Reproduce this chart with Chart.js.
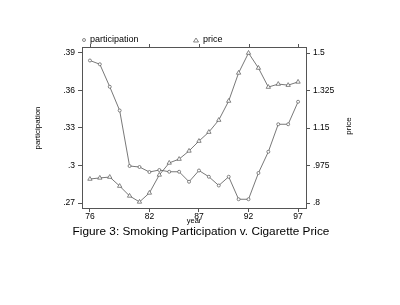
<!DOCTYPE html>
<html>
<head>
<meta charset="utf-8">
<script src="https://cdn.jsdelivr.net/npm/chart.js@4.4.1/dist/chart.umd.min.js"></script>
<style>
  html, body { margin: 0; padding: 0; background: #fff; }
  #wrap { width: 400px; height: 305px; }
</style>
</head>
<body>
<div id="wrap"><canvas id="chart" width="400" height="305"></canvas></div>
<script>
// data
const years = [76, 77, 78, 79, 80, 81, 82, 83, 84, 85, 86, 87, 88, 89, 90, 91, 92, 93, 94, 95, 96, 97];
const participation = [.384, .381, .363, .344, .2996, .2988, .2948, .2964, .295, .295, .287, .296,
  .291, .284, .291, .273, .273, .294, .311, .333, .333, .351];
const price = [.912, .917, .921, .879, .833, .805, .847, .931, .987, 1.005, 1.043, 1.089,
  1.131, 1.187, 1.276, 1.407, 1.5, 1.43, 1.341, 1.355, 1.35, 1.365];

const yearTicks = [76, 82, 87, 92, 97];
const partTicks = [.27, .3, .33, .36, .39];
const partLabels = ['.27', '.3', '.33', '.36', '.39'];
const priceTicks = [.8, .975, 1.15, 1.325, 1.5];
const priceLabels = ['.8', '.975', '1.15', '1.325', '1.5'];

const lineCol = '#555';
const fontFam = '"Liberation Sans", Arial, sans-serif';

function pts(vals) {
  return years.map((yr, i) => ({ x: yr, y: vals[i] }));
}

// top frame line, legend, axis titles and caption
const extras = {
  id: 'extras',
  afterDraw(chart) {
    const ctx = chart.ctx;
    const a = chart.chartArea;
    const xs = chart.scales.x;
    ctx.save();
    ctx.strokeStyle = lineCol;
    ctx.lineWidth = 1;
    ctx.beginPath();
    ctx.moveTo(a.left, a.top + 0.5);
    ctx.lineTo(a.right, a.top + 0.5);
    yearTicks.forEach(t => {
      const px = Math.round(xs.getPixelForValue(t)) + 0.5;
      ctx.moveTo(px, a.top);
      ctx.lineTo(px, a.top - 3);
    });
    ctx.stroke();

    // legend
    ctx.fillStyle = '#000';
    ctx.font = '9px ' + fontFam;
    ctx.textBaseline = 'middle';
    ctx.textAlign = 'left';
    ctx.lineWidth = 0.7;
    ctx.beginPath();
    ctx.arc(84, 40, 1.5, 0, Math.PI * 2);
    ctx.stroke();
    ctx.fillText('participation', 90, 40);
    ctx.beginPath();
    ctx.moveTo(196, 38);
    ctx.lineTo(198.5, 42);
    ctx.lineTo(193.5, 42);
    ctx.closePath();
    ctx.stroke();
    ctx.fillText('price', 203, 40);

    // axis titles
    ctx.font = '8px ' + fontFam;
    ctx.textAlign = 'center';
    ctx.save();
    ctx.translate(38, 128);
    ctx.rotate(-Math.PI / 2);
    ctx.fillText('participation', 0, 0);
    ctx.restore();
    ctx.save();
    ctx.translate(349, 126);
    ctx.rotate(-Math.PI / 2);
    ctx.fillText('price', 0, 0);
    ctx.restore();
    ctx.font = '7.5px ' + fontFam;
    ctx.fillText('year', (a.left + a.right) / 2, 221);

    ctx.font = '11.8px ' + fontFam;
    ctx.fillText('Figure 3: Smoking Participation v. Cigarette Price', 201, 232);
    ctx.restore();
  }
};

const tickFont = { family: fontFam, size: 8.5 };

new Chart(document.getElementById('chart'), {
  type: 'line',
  data: {
    datasets: [
      {
        label: 'participation',
        data: pts(participation),
        yAxisID: 'y',
        borderColor: lineCol,
        borderWidth: 0.8,
        pointStyle: 'circle',
        pointRadius: 1.5,
        pointBorderWidth: 0.7,
        pointBorderColor: lineCol,
        pointBackgroundColor: '#fff',
        tension: 0
      },
      {
        label: 'price',
        data: pts(price),
        yAxisID: 'y2',
        borderColor: lineCol,
        borderWidth: 0.8,
        pointStyle: 'triangle',
        pointRadius: 2.5,
        pointBorderWidth: 0.7,
        pointBorderColor: lineCol,
        pointBackgroundColor: '#fff',
        tension: 0
      }
    ]
  },
  options: {
    responsive: false,
    animation: false,
    layout: { padding: { left: 52, right: 54, top: 47, bottom: 77 } },
    plugins: { legend: { display: false }, tooltip: { enabled: false } },
    scales: {
      x: {
        type: 'linear',
        min: 75.2,
        max: 97.8,
        afterBuildTicks: s => { s.ticks = yearTicks.map(v => ({ value: v })); },
        afterFit: s => { s.height = 20; },
        ticks: { color: '#000', font: tickFont, padding: 0, maxRotation: 0, callback: v => String(v) },
        grid: { drawOnChartArea: false, drawTicks: true, tickLength: 4, color: lineCol },
        border: { display: true, color: lineCol, width: 1 }
      },
      y: {
        position: 'left',
        min: 0.266,
        max: 0.3948,
        afterBuildTicks: s => { s.ticks = partTicks.map(v => ({ value: v })); },
        afterFit: s => { s.width = 30; },
        ticks: {
          color: '#000', font: tickFont, padding: 3,
          callback: v => partLabels[partTicks.findIndex(t => Math.abs(t - v) < 1e-6)]
        },
        grid: { drawOnChartArea: false, drawTicks: true, tickLength: 4, color: lineCol },
        border: { display: true, color: lineCol, width: 1 }
      },
      y2: {
        position: 'right',
        min: 0.7767,
        max: 1.528,
        afterBuildTicks: s => { s.ticks = priceTicks.map(v => ({ value: v })); },
        afterFit: s => { s.width = 40; },
        ticks: {
          color: '#000', font: tickFont, padding: 3,
          callback: v => priceLabels[priceTicks.findIndex(t => Math.abs(t - v) < 1e-6)]
        },
        grid: { drawOnChartArea: false, drawTicks: true, tickLength: 4, color: lineCol },
        border: { display: true, color: lineCol, width: 1 }
      }
    }
  },
  plugins: [extras]
});
</script>
</body>
</html>
